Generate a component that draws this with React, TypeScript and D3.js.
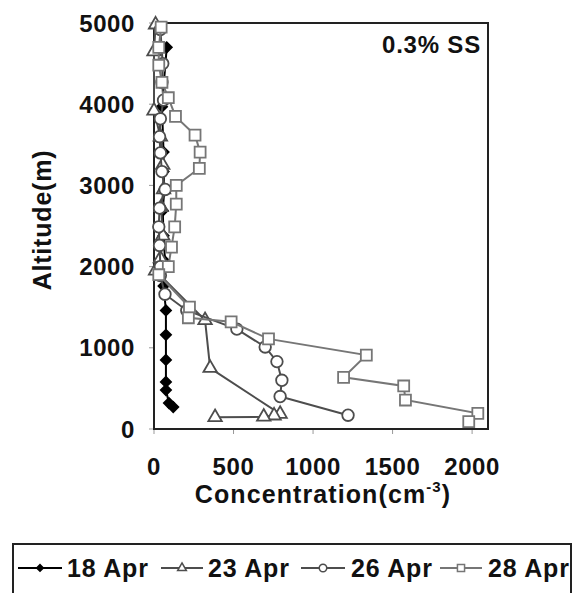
import React from "react";
import * as d3 from "d3";

const xTicks = [0, 500, 1000, 1500, 2000];
const yTicks = [0, 1000, 2000, 3000, 4000, 5000];
const seriesNames = ["18 Apr", "23 Apr", "26 Apr", "28 Apr"];

const alt18 = [4700, 3970, 3410, 3170, 2950, 2690, 2380, 2060, 1760, 1460, 1160, 850, 580, 480, 320, 270];
const conc18 = [80, 50, 60, 60, 65, 55, 60, 70, 60, 75, 75, 75, 75, 75, 94, 121];

const alt23 = [4980, 4650, 3920, 3600, 3250, 2950, 2730, 2380, 2100, 1950, 1340, 750, 185, 165, 150, 145];
const conc23 = [10, 0, 0, 40, 55, 60, 45, 55, 40, 10, 321, 353, 793, 755, 690, 384];

const alt26 = [4920, 4500, 4270, 4050, 3820, 3600, 3400, 3170, 2950, 2720, 2490, 2260, 2000, 1890, 1660, 1460, 1230, 1010, 830, 600, 400, 170];
const conc26 = [40, 55, 50, 60, 40, 35, 40, 50, 70, 35, 30, 35, 40, 40, 69, 206, 521, 699, 773, 804, 793, 1220];

const alt28 = [4950, 4700, 4480, 4270, 4080, 3850, 3620, 3410, 3210, 3000, 2770, 2490, 2240, 2000, 1900, 1500, 1370, 1320, 1110, 910, 636, 530, 357, 193, 90];
const conc28 = [45, 30, 30, 50, 90, 135, 258, 290, 285, 140, 140, 130, 110, 90, 30, 223, 216, 485, 720, 1335, 1192, 1570, 1581, 2036, 1979];

const FONT = "'Liberation Sans', Arial, sans-serif";

export default function App() {
  const W = 574, H = 593;
  const L = 154, R = 488, T = 23, B = 429;
  const x = d3.scaleLinear().domain([0, 2100]).range([L, R]);
  const y = d3.scaleLinear().domain([0, 5000]).range([B, T]);

  const series = [
    { name: seriesNames[0], alt: alt18, conc: conc18, color: "#000", fill: "#000", sym: "diamond" },
    { name: seriesNames[1], alt: alt23, conc: conc23, color: "#4d4d4d", fill: "#fff", sym: "triangle" },
    { name: seriesNames[2], alt: alt26, conc: conc26, color: "#4d4d4d", fill: "#fff", sym: "circle" },
    { name: seriesNames[3], alt: alt28, conc: conc28, color: "#767676", fill: "#fff", sym: "square" },
  ];

  const symPath = (sym: string, scale = 1) => {
    if (sym === "diamond") return d3.symbol().type(d3.symbolSquare).size(52 * scale * scale)() as string;
    if (sym === "triangle") return d3.symbol().type(d3.symbolTriangle).size(78 * scale * scale)() as string;
    if (sym === "circle") return d3.symbol().type(d3.symbolCircle).size(105 * scale * scale)() as string;
    return d3.symbol().type(d3.symbolSquare).size(120 * scale * scale)() as string;
  };

  const line = d3.line<[number, number]>().x((d) => x(d[0])).y((d) => y(d[1]));

  const legendItems = [
    { lx0: 18, lx1: 62, tx: 67 },
    { lx0: 161, lx1: 203, tx: 208 },
    { lx0: 301, lx1: 345, tx: 351 },
    { lx0: 440, lx1: 482, tx: 488 },
  ];
  const legY = 568;

  return (
    <svg width={W} height={H} style={{ position: "absolute", left: 0, top: 0, background: "#fff" }} fontFamily={FONT}>
      <rect x={0} y={0} width={W} height={H} fill="#fff" />
      {yTicks.map((t) => (
        <g key={"y" + t}>
          <line x1={L - 5} x2={L} y1={y(t)} y2={y(t)} stroke="#999" strokeWidth={1} />
          <text x={135} y={y(t)} dy="0.36em" textAnchor="end" fontSize={24} fontWeight="bold" letterSpacing={0.6} fill="#111">
            {t}
          </text>
        </g>
      ))}
      {xTicks.map((t) => (
        <g key={"x" + t}>
          <line x1={x(t)} x2={x(t)} y1={B} y2={B + 5} stroke="#999" strokeWidth={1} />
          <text x={x(t)} y={475} textAnchor="middle" fontSize={24} fontWeight="bold" letterSpacing={0.6} fill="#111">
            {t}
          </text>
        </g>
      ))}
      <rect x={L} y={T} width={R - L} height={B - T} fill="none" stroke="#222" strokeWidth={2} />

      {series.map((s) => {
        const pts = s.alt.map((a, i) => [s.conc[i], a] as [number, number]);
        return (
          <g key={s.name}>
            <path d={line(pts) as string} fill="none" stroke={s.color} strokeWidth={2} />
            {pts.map((p, i) => (
              <path
                key={i}
                d={symPath(s.sym)}
                transform={`translate(${x(p[0])},${y(p[1])})${s.sym === "diamond" ? " rotate(45)" : ""}`}
                fill={s.fill}
                stroke={s.color}
                strokeWidth={1.8}
              />
            ))}
          </g>
        );
      })}

      <text x={481} y={53} textAnchor="end" fontSize={24} fontWeight="bold" letterSpacing={0.8} fill="#111">
        0.3% SS
      </text>

      <text
        transform={`translate(51,220) rotate(-90)`}
        textAnchor="middle"
        fontSize={25}
        fontWeight="bold"
        letterSpacing={0.8}
        fill="#111"
      >
        Altitude(m)
      </text>
      <text x={323} y={503} textAnchor="middle" fontSize={25} fontWeight="bold" letterSpacing={1.1} fill="#111">
        Concentration(cm<tspan dy={-11} fontSize={15}>-3</tspan>
        <tspan dy={11}>)</tspan>
      </text>

      <rect x={13} y={544} width={558} height={60} fill="#fff" stroke="#222" strokeWidth={2} />
      {series.map((s, i) => {
        const it = legendItems[i];
        const cx = (it.lx0 + it.lx1) / 2;
        return (
          <g key={"leg" + s.name}>
            <line x1={it.lx0} x2={it.lx1} y1={legY} y2={legY} stroke={s.color} strokeWidth={2} />
            <path
              d={symPath(s.sym, 0.65)}
              transform={`translate(${cx},${legY})${s.sym === "diamond" ? " rotate(45)" : ""}`}
              fill={s.fill}
              stroke={s.color}
              strokeWidth={1.5}
            />
            <text x={it.tx} y={legY} dy="0.36em" fontSize={25} fontWeight="bold" letterSpacing={0.8} fill="#111">
              {s.name}
            </text>
          </g>
        );
      })}
    </svg>
  );
}
